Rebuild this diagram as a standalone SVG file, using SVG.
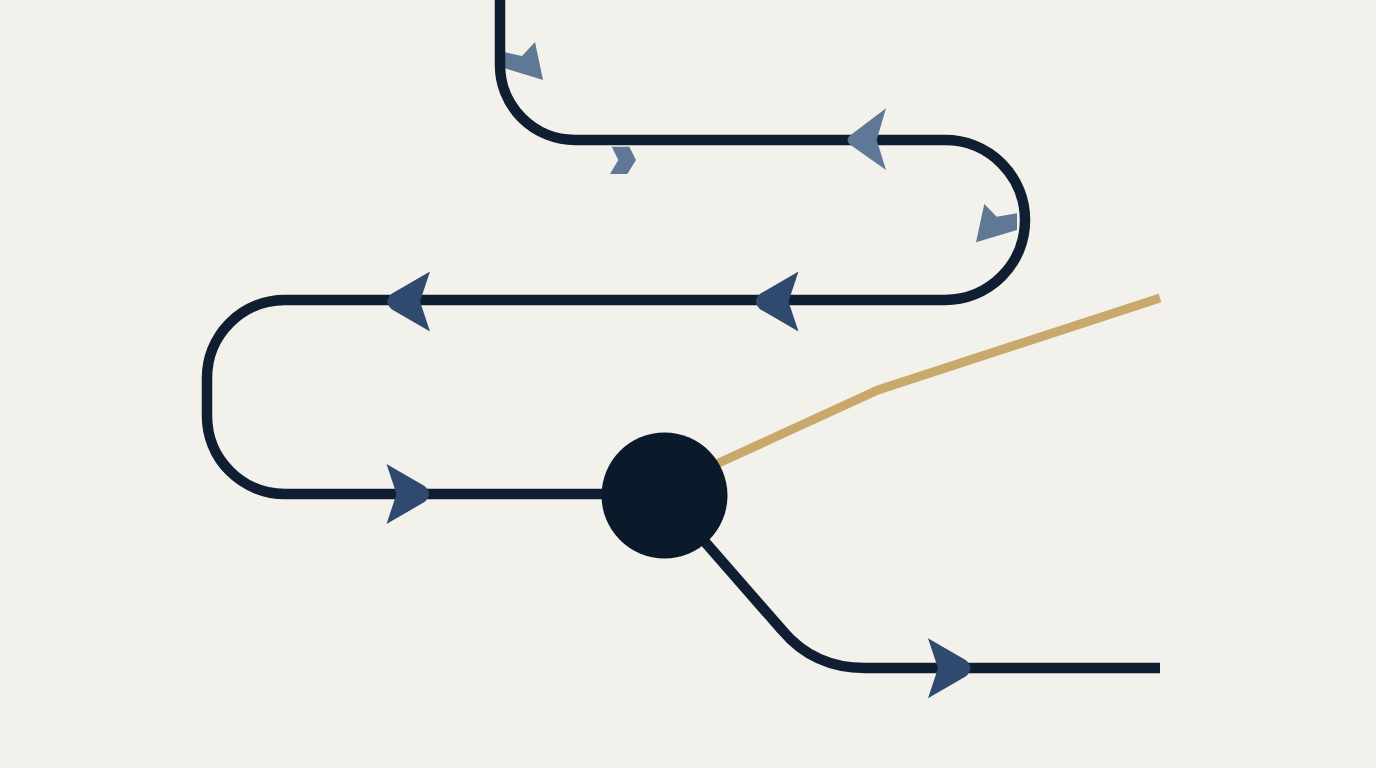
<svg xmlns="http://www.w3.org/2000/svg" width="1376" height="768" viewBox="0 0 1376 768">
<defs>
<style>
.ln{fill:none;stroke:#0f1e30;stroke-width:10.5;stroke-linejoin:round}
.gold{fill:none;stroke:#c9a96b;stroke-width:9}
.ah{fill:#2f4a6e}
.al{fill:#5f7896}
</style>
<path id="arr" d="M-46,-30 L-36,0 L-46,30 L-8,8 Q1,0 -8,-8 Z"/>
</defs>
<rect width="1376" height="768" fill="#f3f1ec"/>
<g id="faint-arrows">
<path class="al" d="M504,52 L522,56 L535,42 L543,80 L504,68 Z"/>
<path class="al" d="M611.7,146.7 L629.3,146.7 L636,160 L627.3,174 L610,174 L618.3,160 Z"/>
<path class="al" d="M984.3,204 L996.7,216.7 L1017,213.3 L1017,230 L976,242.3 Z"/>
</g>
<g id="connectors">
<path class="gold" d="M664,488 L878,390 L1160,298"/>
<path class="ln" d="M500,0 L500,65 A75,75 0 0 0 575,140 L945,140 A80,80 0 0 1 945,300 L285,300 A78,78 0 0 0 207,378 L207,416 A78,78 0 0 0 285,494 L664,494"/>
<path class="ln" d="M664,495 L782,630 C802,654 830,668 865,668 L1160,668"/>
</g>
<g id="node">
<circle cx="664.5" cy="495.5" r="63" fill="#0b1a2a"/>
</g>
<g id="arrows">
<path class="al" d="M886,108.3 L876.7,140 L886,170 L852,146 Q843,140 852,134 Z"/>
<use href="#arr" class="ah" transform="translate(384,301.5) rotate(180)"/>
<use href="#arr" class="ah" transform="translate(752.5,301.5) rotate(180)"/>
<use href="#arr" class="ah" transform="translate(432.5,494)"/>
<use href="#arr" class="ah" transform="translate(974,668.3)"/>
</g>
</svg>
